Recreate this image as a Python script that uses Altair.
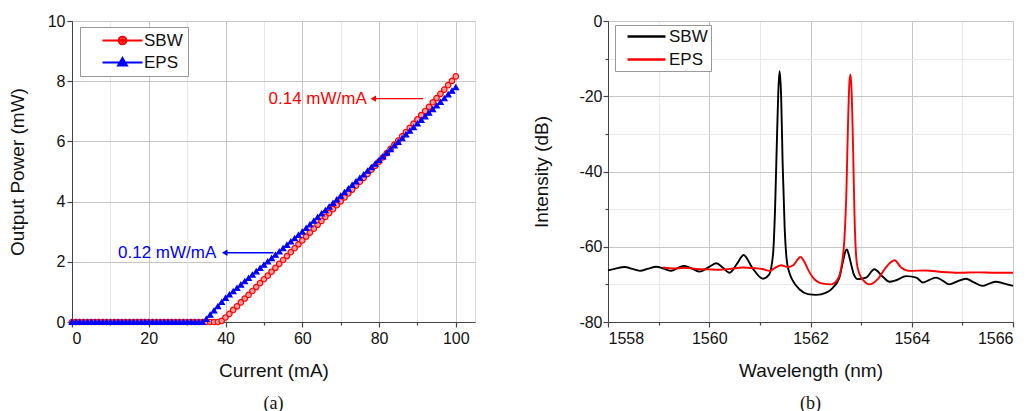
import altair as alt
import pandas as pd

# ---------------- (a) L-I curves ----------------
current_ma = list(range(0, 101))
sbw_power = [0.0] * 39 + [
    0.04, 0.15, 0.27, 0.40, 0.52, 0.65, 0.78, 0.90, 1.03, 1.16,
    1.29, 1.42, 1.54, 1.67, 1.80, 1.93, 2.06, 2.19, 2.32, 2.45,
    2.58, 2.71, 2.84, 2.97, 3.10, 3.23, 3.36, 3.49, 3.62, 3.75,
    3.88, 4.01, 4.14, 4.27, 4.40, 4.53, 4.66, 4.79, 4.92, 5.06,
    5.19, 5.33, 5.47, 5.61, 5.75, 5.89, 6.03, 6.17, 6.31, 6.45,
    6.59, 6.73, 6.87, 7.01, 7.15, 7.30, 7.44, 7.58, 7.72, 7.87,
    8.01, 8.16]
eps_power = [0.0] * 35 + [
    0.10, 0.24, 0.38, 0.52, 0.66, 0.80, 0.91, 1.02, 1.13, 1.24,
    1.35, 1.46, 1.57, 1.68, 1.79, 1.90, 2.01, 2.12, 2.23, 2.34,
    2.45, 2.56, 2.67, 2.78, 2.89, 3.00, 3.12, 3.24, 3.36, 3.48,
    3.60, 3.71, 3.83, 3.95, 4.07, 4.19, 4.31, 4.43, 4.55, 4.67,
    4.79, 4.90, 5.02, 5.14, 5.26, 5.38, 5.50, 5.62, 5.74, 5.86,
    5.98, 6.10, 6.23, 6.35, 6.47, 6.59, 6.71, 6.83, 6.95, 7.07,
    7.19, 7.31, 7.43, 7.56, 7.68, 7.80]

ann_labels = ["0.14 mW/mA", "0.12 mW/mA"]
ann_text_x = [51.2, 12.0]
ann_y = [7.42, 2.3]
ann_tail_x = [91.5, 52.5]
ann_head_x = [78.5, 39.8]
ann_colors = ["#ff0000", "#0000ff"]

# ---------------- (b) spectra ----------------
sbw_wl = [1558.00, 1558.15, 1558.33, 1558.48, 1558.63, 1558.80, 1558.95, 1559.10,
          1559.25, 1559.38, 1559.51, 1559.66, 1559.81, 1559.98, 1560.14, 1560.27,
          1560.40, 1560.55, 1560.68, 1560.85, 1561.06, 1561.18, 1561.26, 1561.30,
          1561.34, 1561.37, 1561.39, 1561.42, 1561.45, 1561.49, 1561.53, 1561.58,
          1561.65, 1561.78, 1561.95, 1562.11, 1562.31, 1562.44, 1562.57, 1562.64,
          1562.69, 1562.72, 1562.75, 1562.80, 1562.86, 1562.93, 1563.10, 1563.26,
          1563.43, 1563.56, 1563.69, 1563.89, 1564.09, 1564.22, 1564.35, 1564.48,
          1564.61, 1564.74, 1564.90, 1565.07, 1565.23, 1565.40, 1565.53, 1565.66,
          1565.83, 1566.00]
sbw_db = [-66.3, -65.8, -65.4, -65.9, -66.4, -65.8, -65.3, -65.8,
          -66.4, -65.6, -65.1, -65.8, -66.6, -65.5, -64.4, -65.6,
          -66.9, -64.5, -62.2, -65.6, -68.5, -67.5, -62.0, -50.0,
          -30.0, -17.0, -13.3, -20.0, -38.0, -55.0, -63.5, -66.8,
          -69.0, -71.3, -72.6, -72.8, -72.2, -70.9, -68.2, -64.0,
          -61.2, -60.7, -61.8, -64.5, -67.5, -68.6, -68.2, -66.0,
          -68.0, -69.3, -68.9, -67.8, -68.2, -69.5, -68.8, -68.2,
          -69.0, -70.0, -69.2, -68.5, -69.5, -70.4, -69.8, -69.3,
          -69.8, -70.4]
eps_wl = [1559.09, 1559.30, 1559.50, 1559.75, 1560.00, 1560.20, 1560.40, 1560.66,
          1560.90, 1561.05, 1561.19, 1561.30, 1561.42, 1561.55, 1561.66, 1561.74,
          1561.80, 1561.87, 1561.95, 1562.05, 1562.24, 1562.41, 1562.54, 1562.62,
          1562.67, 1562.71, 1562.74, 1562.77, 1562.79, 1562.81, 1562.84, 1562.87,
          1562.91, 1562.96, 1563.05, 1563.16, 1563.33, 1563.49, 1563.66, 1563.79,
          1563.95, 1564.28, 1564.60, 1564.94, 1565.30, 1565.65, 1566.00]
eps_db = [-65.5, -65.8, -65.6, -65.9, -66.0, -66.1, -65.9, -65.5,
          -65.7, -65.9, -66.4, -65.6, -64.9, -65.4, -64.9, -63.5,
          -62.7, -63.8, -66.0, -68.2, -69.8, -70.0, -68.6, -64.5,
          -58.0, -45.0, -28.0, -16.0, -14.2, -18.0, -33.0, -52.0,
          -63.8, -67.0, -69.0, -70.0, -68.6, -65.5, -63.6, -65.5,
          -66.4, -66.3, -66.7, -66.9, -66.8, -66.9, -66.9]

FONT = "Liberation Sans"
series_names = ["SBW", "EPS"]

li_df = pd.DataFrame({
    "Current": current_ma + current_ma,
    "Power": sbw_power + eps_power,
    "Series": ["SBW"] * len(current_ma) + ["EPS"] * len(current_ma),
})
ann_df = pd.DataFrame({
    "label": ann_labels, "tx": ann_text_x, "y": ann_y,
    "tail": ann_tail_x, "head": ann_head_x, "col": ann_colors,
})
sbw_df = pd.DataFrame({"wl": sbw_wl, "db": sbw_db, "Series": "SBW"})
eps_df = pd.DataFrame({"wl": eps_wl, "db": eps_db, "Series": "EPS"})


def grid_axis(title, values, major_test, label_pad=3, title_pad=10):
    return alt.Axis(
        title=title,
        values=values,
        labelExpr=f"({major_test}) ? '' + datum.value : ''",
        gridColor={"condition": {"test": major_test, "value": "#c6c6c6"}, "value": "#e9e9e9"},
        tickSize={"condition": {"test": major_test, "value": 5}, "value": 3},
        tickColor="#444", tickWidth=1.2,
        domainColor="#444",
        labelFont=FONT, labelFontSize=16, labelColor="#111",
        titleFont=FONT, titleFontSize=19, titleFontWeight="normal", titleColor="#111",
        labelPadding=label_pad, titlePadding=title_pad,
    )


xa = alt.X("Current:Q", scale=alt.Scale(domain=[0, 105], nice=False),
           axis=grid_axis("Current (mA)", list(range(0, 101, 10)), "datum.value % 20 === 0", 3, 15))
ya = alt.Y("Power:Q", scale=alt.Scale(domain=[0, 10], nice=False),
           axis=grid_axis("Output Power (mW)", list(range(0, 11)), "datum.value % 2 === 0", 2, 20))

# legend symbols: line with marker in the middle
SBW_SYM = "M-4,0L4,0M0.75,0A0.75,0.75 0 1 1 -0.75,0A0.75,0.75 0 1 1 0.75,0Z M0.3,0A0.3,0.3 0 1 1 -0.3,0A0.3,0.3 0 1 1 0.3,0Z"
EPS_SYM = "M-4,0L4,0M0,-0.85L0.85,0.6L-0.85,0.6Z M0,-0.4L0.4,0.35L-0.4,0.35Z M0,-0.05L0.05,0.15L-0.05,0.15Z"
LINE_SYM = "M-4,0L4,0"

li_legend = alt.Legend(title=None, orient="none", legendX=8, legendY=6,
                       fillColor="white", strokeColor="#999", padding=5,
                       labelFont=FONT, labelFontSize=17, labelColor="#111",
                       symbolSize=100, rowPadding=4, symbolStrokeWidth=2.2,
                       symbolOffset=29, labelOffset=13, symbolOpacity=1)
red_blue = ["#ff0000", "#0000ff"]

# actual curves (no legend)
stroke_enc = alt.Stroke("Series:N", scale=alt.Scale(domain=series_names, range=red_blue), legend=None)
li_line = alt.Chart(li_df).mark_line(strokeWidth=1.5).encode(
    x=xa, y=ya, stroke=stroke_enc, detail="Series:N")
li_pts = alt.Chart(li_df).mark_point(size=30, strokeWidth=1.2, opacity=1, filled=False).encode(
    x=xa, y=ya, stroke=stroke_enc,
    fill=alt.Fill("Series:N", scale=alt.Scale(domain=series_names, range=["#ff9c9c", "#0000ff"]), legend=None),
    shape=alt.Shape("Series:N", scale=alt.Scale(domain=series_names, range=["circle", "triangle-up"]), legend=None),
)
# invisible layer that only carries the legend (line + marker symbols)
li_leg = alt.Chart(li_df).mark_point(size=1, opacity=0, filled=False).encode(
    x=xa, y=ya,
    color=alt.Color("Series:N", scale=alt.Scale(domain=series_names, range=red_blue), legend=li_legend),
    shape=alt.Shape("Series:N", scale=alt.Scale(domain=series_names, range=[SBW_SYM, EPS_SYM]), legend=li_legend),
)

ann_text = alt.Chart(ann_df).mark_text(align="left", baseline="middle", font=FONT, fontSize=17).encode(
    x=alt.X("tx:Q"), y=alt.Y("y:Q"), text="label:N",
    fill=alt.Fill("col:N", scale=None, legend=None))
ann_rule = alt.Chart(ann_df).mark_rule(strokeWidth=1.3).encode(
    x=alt.X("tail:Q"), x2="head:Q", y=alt.Y("y:Q"), stroke=alt.Stroke("col:N", scale=None, legend=None))
ann_head = alt.Chart(ann_df).mark_point(shape="triangle-left", filled=True, size=40, opacity=1).encode(
    x=alt.X("head:Q"), y=alt.Y("y:Q"), fill=alt.Fill("col:N", scale=None, legend=None))

left = alt.layer(li_line, li_pts, li_leg, ann_rule, ann_head, ann_text).resolve_scale(
    shape="independent", fill="independent", stroke="independent", color="independent"
).resolve_legend(
    shape="independent", color="independent"
).properties(
    width=403, height=301,
    title=alt.TitleParams("(a)", orient="bottom", font="Liberation Serif", fontSize=18,
                          fontWeight="normal", color="#111", offset=15),
)

xb = alt.X("wl:Q", scale=alt.Scale(domain=[1558, 1566], nice=False, zero=False),
           axis=grid_axis("Wavelength (nm)", list(range(1558, 1567)), "datum.value % 2 === 0", 3, 15))
yb = alt.Y("db:Q", scale=alt.Scale(domain=[-80, 0], nice=False),
           axis=grid_axis("Intensity (dB)", list(range(-80, 1, 10)), "datum.value % 20 === 0", 1, 27))
sp_legend = alt.Legend(title=None, orient="none", legendX=7, legendY=4,
                       fillColor="white", strokeColor="#999", padding=3,
                       labelFont=FONT, labelFontSize=17, labelColor="#111",
                       symbolType=LINE_SYM, symbolSize=90, symbolStrokeWidth=2.5,
                       symbolOffset=20, labelOffset=14, rowPadding=5)
col_b = alt.Color("Series:N", scale=alt.Scale(domain=series_names, range=["#000000", "#ff0000"]), legend=sp_legend)

sp_sbw = alt.Chart(sbw_df).mark_line(strokeWidth=1.9, interpolate="monotone").encode(x=xb, y=yb, color=col_b)
sp_eps = alt.Chart(eps_df).mark_line(strokeWidth=1.9, interpolate="monotone").encode(x=xb, y=yb, color=col_b)

right = alt.layer(sp_sbw, sp_eps).properties(
    width=405, height=301,
    title=alt.TitleParams("(b)", orient="bottom", font="Liberation Serif", fontSize=18,
                          fontWeight="normal", color="#111", offset=15),
)

chart = alt.hconcat(left, right, spacing=56).resolve_scale(
    color="independent", stroke="independent", fill="independent", shape="independent"
).properties(
    padding={"left": 7, "top": 12, "right": 5, "bottom": 0}
).configure_view(stroke="#505050", strokeWidth=1.5).configure(background="white")

chart.save("out.html", embed_options={"renderer": "svg", "actions": False})
